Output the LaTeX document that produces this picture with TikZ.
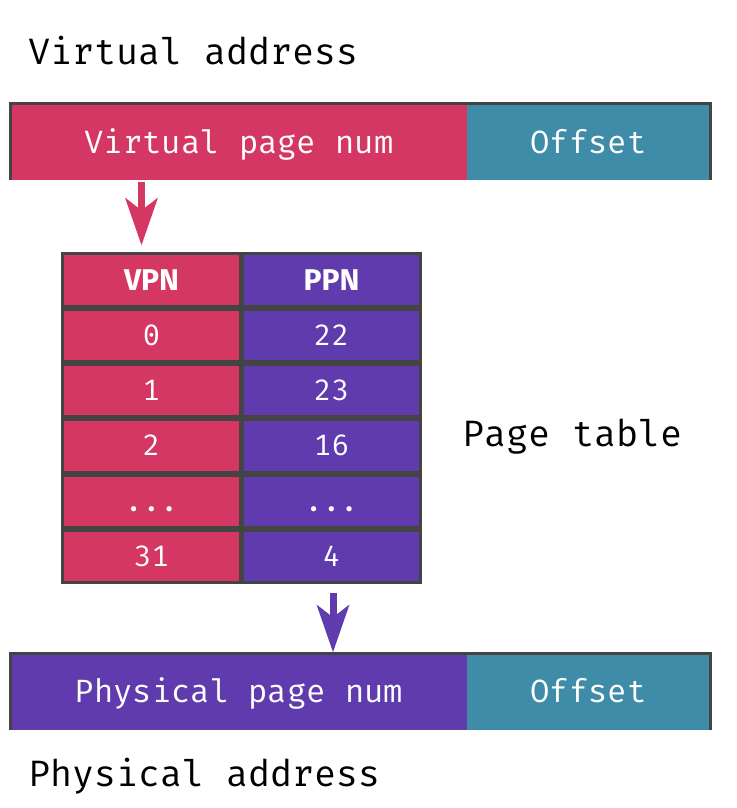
\documentclass[tikz,border=0pt]{standalone}
\usepackage{fontspec}
\setmonofont{Fira Mono}
\newfontfamily\hdfont{Fira Sans}
\usetikzlibrary{arrows.meta}
\definecolor{vred}{RGB}{212,56,98}
\definecolor{vteal}{RGB}{62,140,168}
\definecolor{vpur}{RGB}{96,59,173}
\definecolor{edge}{RGB}{68,68,68}
\begin{document}
\begin{tikzpicture}[x=1pt,y=-1pt,
    title/.style={anchor=base west,inner sep=0pt,font=\ttfamily\fontsize{36.7}{40}\selectfont},
    bar/.style={minimum height=76pt,inner sep=0pt,text=white,text height=22pt,text depth=0pt,
      font=\ttfamily\fontsize{32.2}{36}\selectfont},
    rim/.style={draw=edge,line width=3pt},
    cell/.style={draw=edge,line width=3pt,minimum width=178pt,minimum height=52.3pt,inner sep=0pt,
      text=white,text height=20pt,text depth=0pt,font=\ttfamily\fontsize{29.5}{33}\selectfont},
    head/.style={cell,font=\hdfont\bfseries\fontsize{30}{34}\selectfont},
    link/.style={line width=7pt,-{Stealth[length=47pt,width=32pt,inset=12pt]}}]
  \useasboundingbox (0,0) rectangle (736,808);
  % addresses
  \node[title] (va) at (28,65) {Virtual address};
  \node[bar,fill=vred,minimum width=456pt] (vbar) at (239,142) {Virtual page num};
  \node[bar,fill=vteal,minimum width=243pt] (voff) at (588.5,142) {Offset};
  \draw[rim] (vbar.south west) -- (vbar.north west) -- (voff.north east) -- (voff.south east);
  \node[bar,fill=vpur,minimum width=456pt] (pbar) at (239,691.5) {Physical page num};
  \node[bar,fill=vteal,minimum width=243pt] (poff) at (588.5,691.5) {Offset};
  \draw[rim] (pbar.south west) -- (pbar.north west) -- (poff.north east) -- (poff.south east);
  \node[title] (pa) at (28,786) {Physical address};
  % page table
  \node[head,fill=vred] (vh) at (151.5,280) {VPN};
  \node[head,fill=vpur] (ph) at (331.5,280) {PPN};
  \node[cell,fill=vred] (v0) at (151.5,335.3) {0};
  \node[cell,fill=vpur] (p0) at (331.5,335.3) {22};
  \node[cell,fill=vred] (v1) at (151.5,390.6) {1};
  \node[cell,fill=vpur] (p1) at (331.5,390.6) {23};
  \node[cell,fill=vred] (v2) at (151.5,445.9) {2};
  \node[cell,fill=vpur] (p2) at (331.5,445.9) {16};
  \node[cell,fill=vred] (vd) at (151.5,501.2) {...};
  \node[cell,fill=vpur] (pd) at (331.5,501.2) {...};
  \node[cell,fill=vred] (v31) at (151.5,556.5) {31};
  \node[cell,fill=vpur] (p31) at (331.5,556.5) {4};
  \node[title] (pt) at (462,446) {Page table};
  % arrows
  \coordinate (a1) at (141.5,0);
  \draw[link,draw=vred,fill=vred,shorten <=2pt,shorten >=7pt] (vbar.south -| a1) -- (vh.north -| a1);
  \coordinate (a2) at (333,0);
  \draw[link,draw=vpur,fill=vpur,shorten <=9pt,shorten >=1pt] (p31.south -| a2) -- (pbar.north -| a2);
\end{tikzpicture}
\end{document}
